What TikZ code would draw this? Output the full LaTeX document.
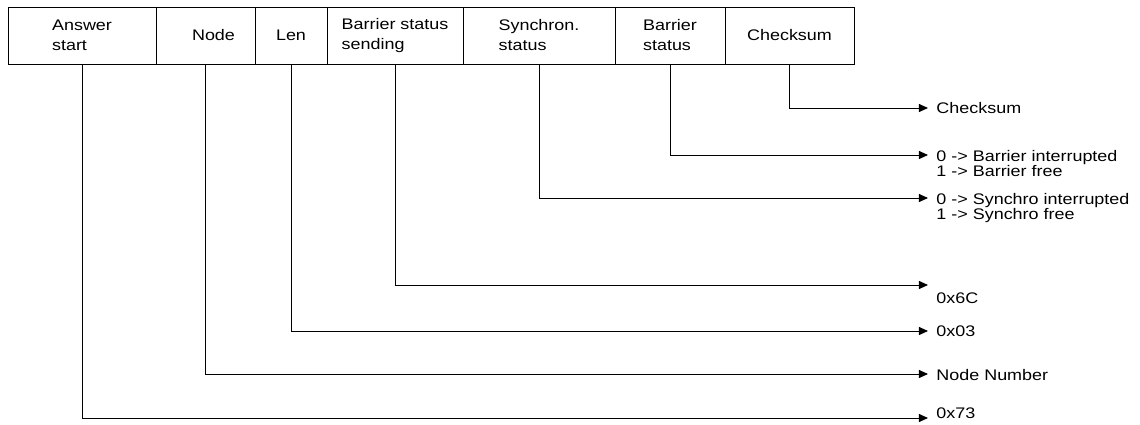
\documentclass[tikz,border=0pt]{standalone}
\usepackage{fontspec}
\setmainfont[FakeStretch=1.17]{Liberation Sans}
\usepackage{tikz}
\usetikzlibrary{arrows.meta,positioning}

\begin{document}
\begin{tikzpicture}[x=0.75pt, y=-0.75pt, line width=0.7pt,
    font=\fontsize{11.5}{11.8}\selectfont,
    cell/.style={draw, minimum height=42.75pt, inner sep=0pt, outer sep=0pt,
      align=left, font=\fontsize{11.5}{15}\selectfont},
    arr/.style={-{Triangle[length=6.8pt, width=6pt]}},
    info/.style={anchor=west, inner sep=0pt, align=left}]
    \useasboundingbox (0,0) rectangle (1140,425);
    % fields of the answer telegram
    \node[cell, minimum width=111pt, anchor=west] (answer) at (8,35.5) {Answer\\start};
    \node[cell, minimum width=74.25pt, right=0pt of answer] (node) {\hspace{12pt}Node};
    \node[cell, minimum width=54pt, right=0pt of node] (len) {Len};
    \node[cell, minimum width=102pt, right=0pt of len] (sending) {Barrier status\\sending};
    \node[cell, minimum width=114pt, right=0pt of sending] (sync) {Synchron.\\status};
    \node[cell, minimum width=82.5pt, right=0pt of sync] (barrier) {Barrier\\status};
    \node[cell, minimum width=96.75pt, right=0pt of barrier] (checksum) {Checksum};
    % one connector per field
    \foreach \f/\y in {answer/418,node/374,len/331,sending/285,sync/198,barrier/155,checksum/108} {
      \coordinate (\f-end) at (928,\y);
      \draw[arr] (\f.south) |- (\f-end);
    }
    \node[info] (l-checksum) at (936,108) {Checksum};
    \node[info, anchor=north west] (l-barrier) at (936,149.5) {0 -> Barrier interrupted\\1 -> Barrier free};
    \node[info, anchor=north west] (l-sync) at (936,192.5) {0 -> Synchro interrupted\\1 -> Synchro free};
    \node[info] (l-sending) at (936,298) {0x6C};
    \node[info] (l-len) at (936,331) {0x03};
    \node[info] (l-node) at (936,375) {Node Number};
    \node[info] (l-answer) at (936,413) {0x73};
\end{tikzpicture}
\end{document}
